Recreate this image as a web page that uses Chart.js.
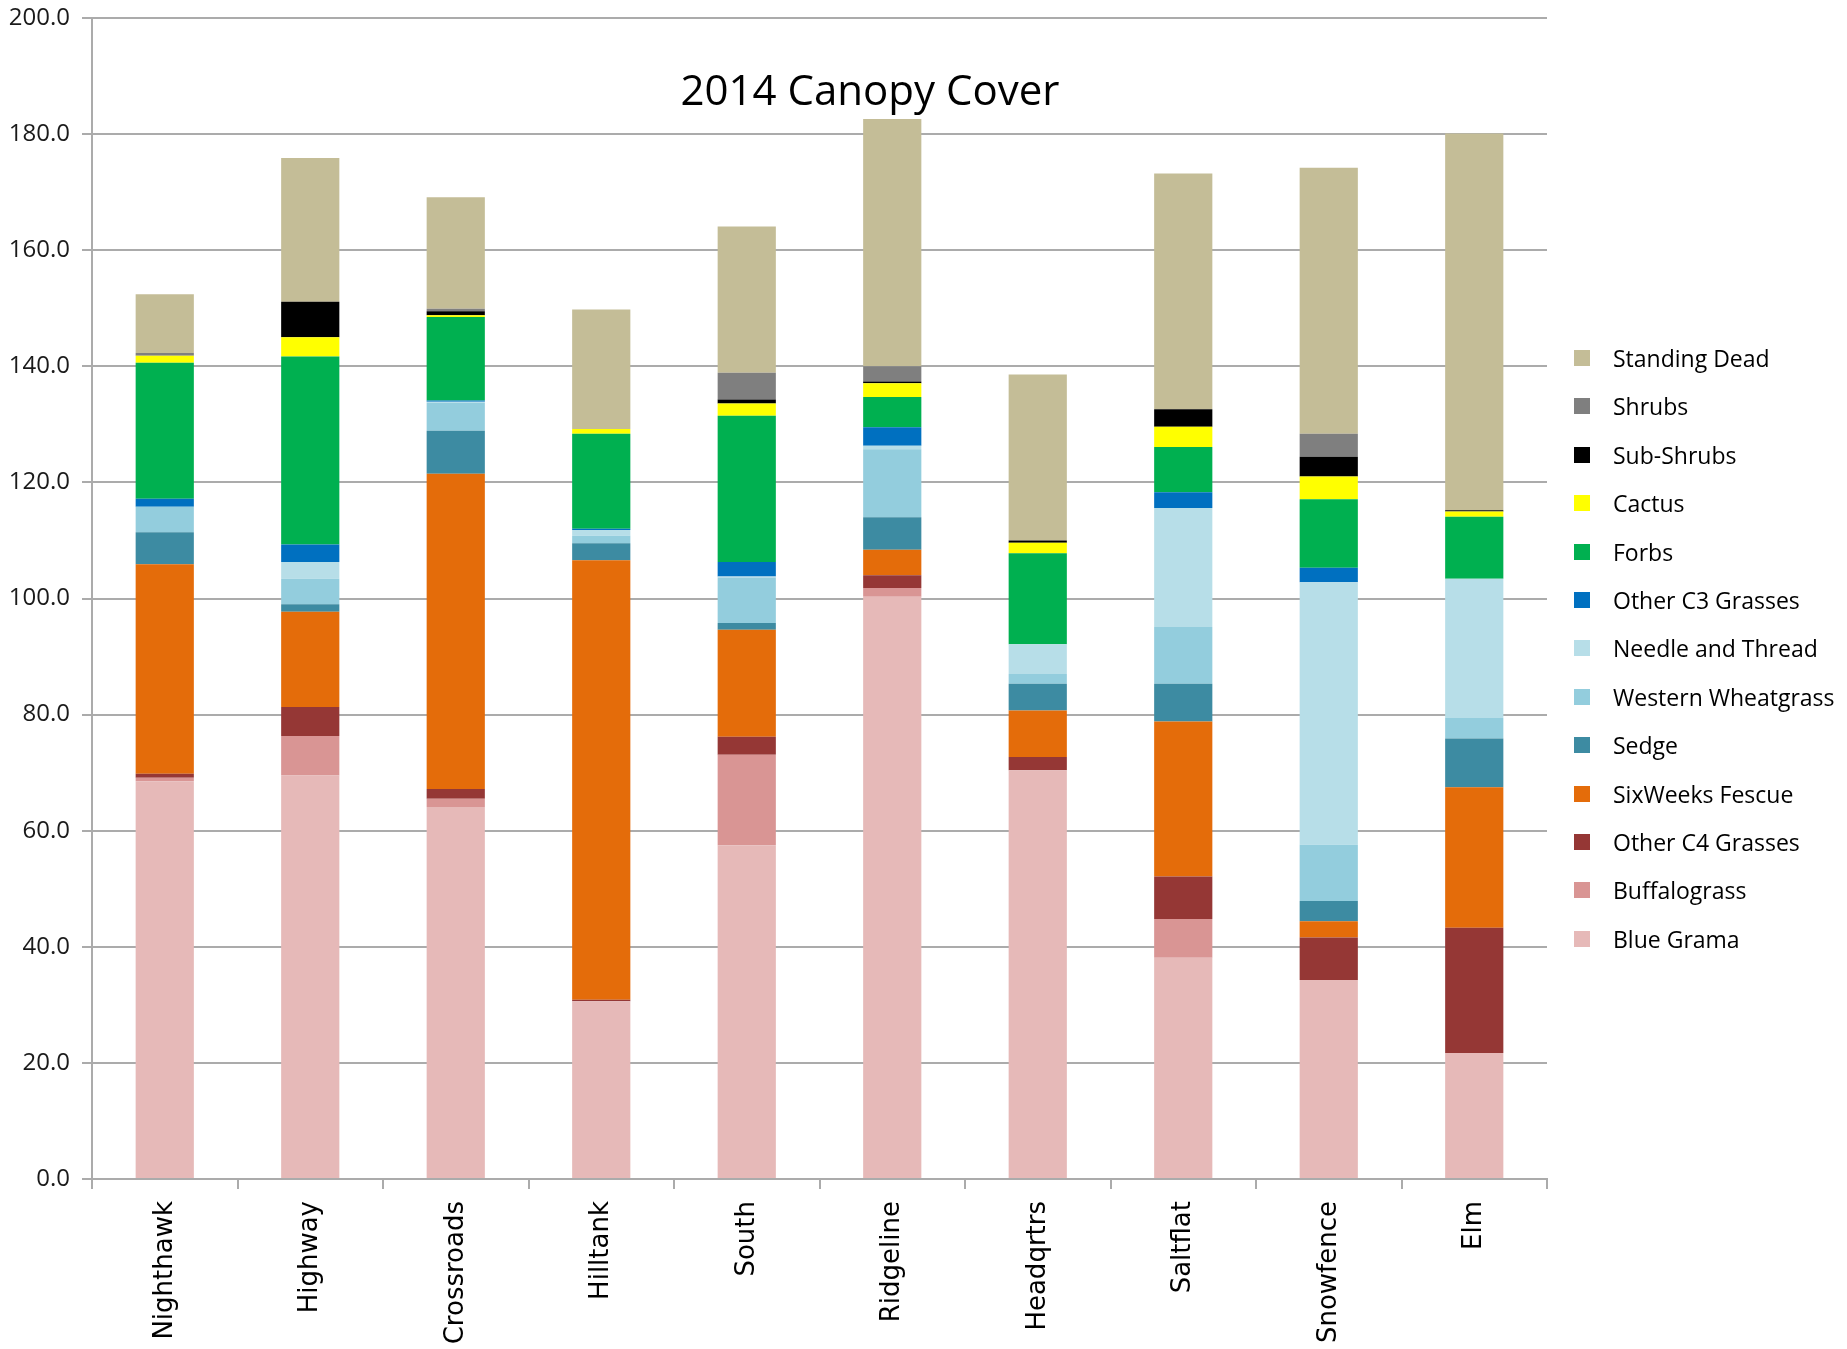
<!DOCTYPE html>
<html>
<head>
<meta charset="utf-8">
<title>2014 Canopy Cover</title>
<script src="https://cdn.jsdelivr.net/npm/chart.js@4.4.1/dist/chart.umd.min.js"></script>
<style>
    body { margin: 0; background: #fff; }
    #wrap { position: relative; width: 1847px; height: 1349px; }
    #legend { position: absolute; left: 0; top: 0; font-family: "Open Sans", sans-serif; font-size: 23px; color: #000; }
    .item { position: absolute; left: 1574px; height: 30px; display: flex; align-items: center; white-space: nowrap; }
    .swatch { width: 16px; height: 16px; margin-right: 23px; }
</style>
</head>
<body>
<div id="wrap">
    <canvas id="canopyChart" width="1847" height="1349"></canvas>
    <div id="legend"></div>
</div>
<script>
const sites = ['Nighthawk', 'Highway', 'Crossroads', 'Hilltank', 'South', 'Ridgeline', 'Headqrtrs', 'Saltflat', 'Snowfence', 'Elm'];

// cover values per site, bottom of the stack first
const blueGrama      = [68.5, 69.5, 64.1, 30.6, 57.5, 100.3, 70.4, 38.1, 34.3, 21.7];
const buffalograss   = [0.6, 6.8, 1.4, 0, 15.6, 1.5, 0, 6.7, 0, 0];
const otherC4        = [0.7, 5.0, 1.7, 0.3, 3.1, 2.2, 2.3, 7.3, 7.3, 21.6];
const sixWeeks       = [36.1, 16.4, 54.3, 75.7, 18.4, 4.4, 8.0, 26.7, 2.8, 24.2];
const sedge          = [5.5, 1.3, 7.4, 2.9, 1.2, 5.6, 4.6, 6.5, 3.5, 8.4];
const westernWheat   = [4.4, 4.4, 4.8, 1.3, 7.8, 11.7, 1.7, 9.8, 9.7, 3.5];
const needleThread   = [0, 2.9, 0.2, 1.0, 0.2, 0.6, 5.1, 20.5, 45.2, 24.0];
const otherC3        = [1.4, 3.0, 0.2, 0.2, 2.5, 3.2, 0, 2.7, 2.5, 0];
const forbs          = [23.4, 32.4, 14.4, 16.4, 25.2, 5.2, 15.7, 7.8, 11.8, 10.7];
const cactus         = [1.2, 3.3, 0.3, 0.8, 2.1, 2.4, 1.8, 3.5, 3.9, 0.9];
const subShrubs      = [0, 6.1, 0.7, 0, 0.7, 0.3, 0.4, 3.0, 3.4, 0.2];
const shrubs         = [0.5, 0, 0.4, 0, 4.6, 2.6, 0, 0, 4.0, 0];
const standingDead   = [10.1, 24.8, 19.2, 20.6, 25.2, 42.6, 28.6, 40.6, 45.8, 64.9];

const yTicks = [0, 20, 40, 60, 80, 100, 120, 140, 160, 180, 200];

const series = [
    { label: 'Blue Grama', data: blueGrama, color: '#E6B9B8' },
    { label: 'Buffalograss', data: buffalograss, color: '#D99594' },
    { label: 'Other C4 Grasses', data: otherC4, color: '#953735' },
    { label: 'SixWeeks Fescue', data: sixWeeks, color: '#E46C0A' },
    { label: 'Sedge', data: sedge, color: '#3D8BA2' },
    { label: 'Western Wheatgrass', data: westernWheat, color: '#93CDDD' },
    { label: 'Needle and Thread', data: needleThread, color: '#B7DEE8' },
    { label: 'Other C3 Grasses', data: otherC3, color: '#0070C0' },
    { label: 'Forbs', data: forbs, color: '#00B050' },
    { label: 'Cactus', data: cactus, color: '#FFFF00' },
    { label: 'Sub-Shrubs', data: subShrubs, color: '#000000' },
    { label: 'Shrubs', data: shrubs, color: '#7F7F7F' },
    { label: 'Standing Dead', data: standingDead, color: '#C4BD97' }
];

const titlePlugin = {
    id: 'canopyTitle',
    afterDatasetsDraw(chart) {
        const c = chart.ctx;
        c.save();
        c.font = '42px "Open Sans"';
        c.fillStyle = '#000';
        c.textAlign = 'center';
        c.textBaseline = 'alphabetic';
        c.fillText('2014 Canopy Cover', 870, 105);
        c.restore();
    }
};

const gridColor = '#ababab';

const chart = new Chart(document.getElementById('canopyChart').getContext('2d'), {
    type: 'bar',
    data: {
        labels: sites,
        datasets: series.map(s => ({
            label: s.label,
            data: s.data,
            backgroundColor: s.color,
            borderWidth: 0,
            barPercentage: 0.4,
            categoryPercentage: 1.0
        }))
    },
    options: {
        responsive: false,
        animation: false,
        layout: { padding: { top: 18, right: 300, bottom: 0, left: 0 } },
        plugins: {
            legend: { display: false },
            tooltip: { enabled: false },
            title: { display: false }
        },
        scales: {
            x: {
                stacked: true,
                afterFit: scale => { scale.height = 170; },
                border: { color: gridColor, width: 2 },
                grid: { display: true, drawOnChartArea: false, drawTicks: true, tickLength: 10, color: gridColor, lineWidth: 2 },
                ticks: {
                    autoSkip: false,
                    minRotation: 90,
                    maxRotation: 90,
                    padding: 12,
                    color: '#000',
                    font: { family: 'DejaVu Sans', size: 26 }
                }
            },
            y: {
                stacked: true,
                min: 0,
                max: 200,
                afterFit: scale => { scale.width = 92; scale.paddingTop = 0; scale.paddingBottom = 0; },
                afterBuildTicks: scale => { scale.ticks = yTicks.map(v => ({ value: v })); },
                border: { color: gridColor, width: 2 },
                grid: { color: gridColor, lineWidth: 2, tickLength: 10 },
                ticks: {
                    padding: 12,
                    color: '#1a1a1a',
                    font: { family: 'Open Sans', size: 24 },
                    callback: v => v.toFixed(1)
                }
            }
        }
    },
    plugins: [titlePlugin]
});

// legend on the right, top entry = last dataset
const legend = document.getElementById('legend');
const legendItems = chart.data.datasets.slice().reverse();
legendItems.forEach((ds, i) => {
    const row = document.createElement('div');
    row.className = 'item';
    row.style.top = (358 - 15 + i * 48.4) + 'px';
    const sw = document.createElement('span');
    sw.className = 'swatch';
    sw.style.background = ds.backgroundColor;
    const txt = document.createElement('span');
    txt.textContent = ds.label;
    row.appendChild(sw);
    row.appendChild(txt);
    legend.appendChild(row);
});
</script>
</body>
</html>
